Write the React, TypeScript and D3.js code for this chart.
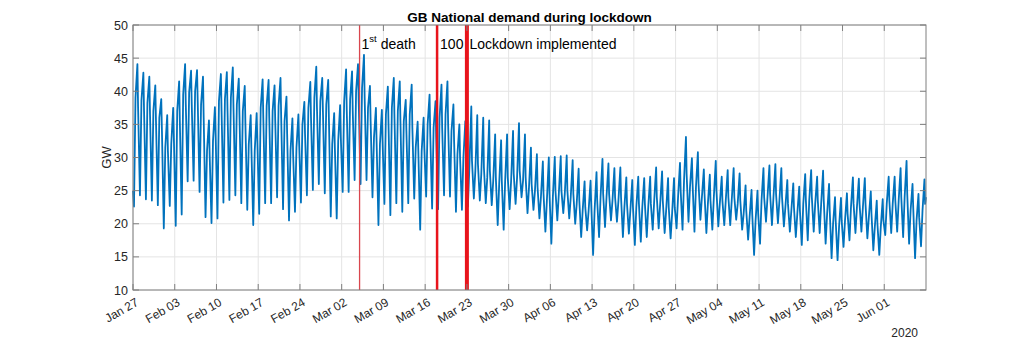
import React from "react";
import * as d3 from "d3";

// ---- Data (GW), one value per day, Jan 27 2020 (Mon) .. Jun 7 2020 ----
const dayPeak = [
  44.1, 42.8, 42.2, 40.9, 38.8, 36.4, 37.5,
  41.5, 44.1, 43.1, 43.2, 42.2, 35.6, 37.6,
  42.6, 42.9, 43.6, 41.9, 40.8, 36.4, 36.7,
  41.8, 41.7, 40.9, 42.0, 39.2, 35.9, 36.5,
  38.4, 41.4, 43.7, 42.0, 41.7, 36.7, 37.9,
  43.3, 43.0, 44.1, 45.5, 40.8, 37.5, 37.2,
  40.7, 42.0, 41.5, 38.7, 41.0, 35.4, 36.0,
  39.5, 38.5, 41.0, 41.5, 38.0, 35.0, 35.5,
  37.7, 36.4, 36.0, 35.6, 33.5, 32.6, 33.5,
  34.0, 35.2, 33.5, 31.5, 30.5, 29.4, 30.0,
  30.1, 30.2, 30.3, 29.6, 28.3, 26.4, 26.5,
  27.8, 29.8, 29.1, 28.4, 28.5, 27.0, 26.6,
  27.1, 26.9, 27.1, 28.5, 27.9, 26.9, 26.9,
  29.2, 33.1, 29.9, 30.8, 28.2, 27.4, 29.5,
  27.1, 28.1, 28.4, 27.6, 25.8, 25.1, 25.0,
  28.4, 28.8, 29.0, 28.4, 26.6, 26.1, 25.6,
  27.5, 28.1, 27.1, 28.0, 26.0, 24.0, 23.9,
  24.6, 27.0, 26.8, 26.9, 24.9, 23.5, 23.7,
  27.1, 27.1, 28.4, 29.5, 26.0, 24.5, 26.7,
];

// morning plateau
const dayMid = [
  39.0, 38.6, 38.2, 37.0, 36.0, 31.5, 32.0,
  37.0, 39.5, 39.8, 40.0, 38.0, 31.0, 32.5,
  38.5, 38.8, 39.0, 38.0, 37.0, 32.0, 31.0,
  37.5, 37.8, 37.0, 37.8, 35.5, 31.0, 31.5,
  35.0, 37.5, 39.0, 38.5, 38.0, 32.0, 32.5,
  38.5, 38.8, 40.0, 40.5, 37.5, 33.0, 32.0,
  36.5, 37.5, 37.0, 35.5, 36.5, 31.5, 31.0,
  35.0, 34.5, 36.0, 36.5, 34.0, 30.5, 30.0,
  28.5, 28.0, 27.5, 27.0, 26.5, 26.0, 26.5,
  26.5, 27.0, 26.5, 25.5, 25.0, 24.0, 23.5,
  24.0, 24.5, 24.5, 24.0, 23.0, 22.0, 22.0,
  22.0, 24.0, 24.0, 23.5, 23.5, 22.5, 22.0,
  22.5, 22.5, 22.5, 23.5, 23.0, 22.0, 21.5,
  24.0, 26.5, 25.5, 25.5, 24.0, 23.0, 24.0,
  23.0, 23.5, 23.5, 23.0, 21.5, 21.0, 20.5,
  23.5, 24.0, 24.0, 23.5, 22.5, 22.0, 21.5,
  23.0, 23.5, 23.0, 23.0, 21.5, 20.0, 19.5,
  20.5, 22.5, 22.5, 22.5, 21.0, 19.5, 19.5,
  23.0, 23.0, 23.5, 24.0, 22.0, 20.5, 22.0,
];

// late evening shoulder
const dayEve = [
  37.5, 37.0, 36.5, 35.5, 34.0, 31.0, 33.0,
  35.5, 38.0, 38.0, 38.5, 36.0, 30.5, 33.5,
  37.0, 37.0, 37.5, 36.5, 35.0, 31.5, 32.5,
  36.0, 36.0, 35.5, 36.0, 33.5, 30.5, 32.5,
  33.5, 36.0, 37.5, 37.0, 36.0, 31.5, 33.0,
  37.0, 37.0, 38.5, 39.0, 35.5, 32.5, 32.5,
  35.0, 36.0, 35.5, 34.0, 34.5, 31.0, 31.5,
  33.5, 33.0, 34.5, 35.0, 32.5, 30.0, 30.5,
  29.5, 29.0, 28.5, 28.0, 27.0, 26.5, 27.0,
  27.5, 28.0, 27.0, 26.0, 25.5, 24.5, 24.5,
  25.0, 25.0, 25.0, 24.5, 23.5, 22.5, 23.0,
  23.5, 24.5, 24.5, 24.0, 24.0, 23.0, 22.5,
  23.0, 23.0, 23.0, 24.0, 23.5, 22.5, 22.5,
  25.0, 27.5, 26.0, 26.0, 24.5, 23.5, 25.0,
  23.5, 24.0, 24.0, 23.5, 22.0, 21.5, 21.5,
  24.0, 24.5, 24.5, 24.0, 23.0, 22.5, 22.0,
  23.5, 24.0, 23.5, 23.5, 22.0, 20.5, 20.5,
  21.5, 23.0, 23.0, 23.0, 21.5, 20.0, 20.5,
  23.5, 23.5, 24.0, 24.5, 22.5, 21.0, 23.0,
];

const dayMin = [
  22.6, 24.3, 23.7, 23.5, 22.8, 19.3, 22.7,
  19.7, 21.4, 26.4, 26.5, 24.8, 21.0, 20.1,
  20.8, 23.2, 23.6, 24.3, 23.1, 22.1, 19.8,
  21.5, 23.1, 23.1, 24.0, 22.2, 20.5, 21.8,
  23.2, 24.3, 25.1, 26.0, 24.6, 21.1, 20.8,
  24.8, 24.8, 26.6, 26.0, 26.6, 24.0, 19.8,
  23.0, 21.3, 23.1, 21.8, 23.1, 23.8, 19.1,
  24.1, 22.3, 22.2, 24.3, 24.1, 21.8, 22.1,
  22.6, 23.8, 23.5, 23.1, 22.8, 19.8, 19.1,
  22.2, 23.0, 24.0, 21.6, 22.1, 20.8, 18.8,
  17.0, 20.5, 21.6, 20.8, 20.0, 18.0, 19.0,
  15.3, 18.0, 19.5, 20.5, 20.3, 18.0, 18.5,
  16.8, 17.3, 18.0, 19.1, 19.3, 18.6, 17.8,
  19.3, 19.1, 20.3, 18.8, 20.6, 18.6, 19.1,
  19.6, 19.8, 19.8, 20.6, 19.1, 17.6, 15.3,
  17.0, 20.3, 19.8, 20.1, 19.6, 18.8, 18.0,
  16.8, 17.5, 18.8, 18.6, 17.0, 14.8, 14.5,
  16.5, 17.5, 18.6, 18.8, 17.8, 16.0, 15.3,
  18.3, 18.6, 18.8, 18.0, 17.0, 14.8, 16.6,
];

const startValue = 25.0;
const endValue = 24.0;

const tickDates = [
  "2020-01-27", "2020-02-03", "2020-02-10", "2020-02-17", "2020-02-24",
  "2020-03-02", "2020-03-09", "2020-03-16", "2020-03-23", "2020-03-30",
  "2020-04-06", "2020-04-13", "2020-04-20", "2020-04-27", "2020-05-04",
  "2020-05-11", "2020-05-18", "2020-05-25", "2020-06-01",
];
const tickLabels = [
  "Jan 27", "Feb 03", "Feb 10", "Feb 17", "Feb 24", "Mar 02", "Mar 09",
  "Mar 16", "Mar 23", "Mar 30", "Apr 06", "Apr 13", "Apr 20", "Apr 27",
  "May 04", "May 11", "May 18", "May 25", "Jun 01",
];
const yTicks = [10, 15, 20, 25, 30, 35, 40, 45, 50];

const eventDates = ["2020-03-05", "2020-03-18", "2020-03-23"];

const DAY = 86400000;
const START = Date.UTC(2020, 0, 27);
const END = Date.UTC(2020, 5, 8);

const FONT = "'Liberation Sans', Arial, Helvetica, sans-serif";

export default function App() {
  const W = 1024, H = 341;
  const L = 133, R = 926, T = 25, B = 290;
  const x = d3.scaleUtc().domain([new Date(START), new Date(END)]).range([L, R]);
  const y = d3.scaleLinear().domain([10, 50]).range([B, T]);

  const pts: { t: Date; v: number }[] = [];
  pts.push({ t: new Date(START), v: startValue });
  for (let d = 0; d < dayPeak.length; d++) {
    pts.push({ t: new Date(START + (d + 4 / 24) * DAY), v: dayMin[d] });
    pts.push({ t: new Date(START + (d + 10 / 24) * DAY), v: dayMid[d] });
    pts.push({ t: new Date(START + (d + 17.75 / 24) * DAY), v: dayPeak[d] });
    pts.push({ t: new Date(START + (d + 20.5 / 24) * DAY), v: dayEve[d] });
  }
  pts.push({ t: new Date(END), v: endValue });

  const line = d3
    .line<{ t: Date; v: number }>()
    .x((p) => x(p.t))
    .y((p) => y(p.v));

  const tx = tickDates.map((s) => x(new Date(s + "T00:00:00Z")));
  const ex = eventDates.map((s) => x(new Date(s + "T00:00:00Z")));
  const eventWidths = [1.3, 2.5, 4];
  const eventColors = ["#d9464e", "#e8141c", "#e8141c"];

  const axisCol = "#262626";
  const boxCol = "#7f7f7f";
  const gridCol = "#e4e4e4";
  const tickLen = 6;

  return (
    <svg
      width={W}
      height={H}
      style={{ position: "absolute", left: 0, top: 0, background: "#fff" }}
      fontFamily={FONT}
    >
      <rect x={0} y={0} width={W} height={H} fill="#fff" />
      {tx.map((px, i) => (
        <line key={"gx" + i} x1={px} x2={px} y1={T} y2={B} stroke={gridCol} strokeWidth={1} />
      ))}
      {yTicks.map((v) => (
        <line key={"gy" + v} x1={L} x2={R} y1={y(v)} y2={y(v)} stroke={gridCol} strokeWidth={1} />
      ))}
      <path d={line(pts) || ""} fill="none" stroke="#0072BD" strokeWidth={1.8} strokeLinejoin="round" />
      {ex.map((px, i) => (
        <line key={"ev" + i} x1={px} x2={px} y1={T} y2={B} stroke={eventColors[i]} strokeWidth={eventWidths[i]} />
      ))}
      <rect x={L} y={T} width={R - L} height={B - T} fill="none" stroke={boxCol} strokeWidth={1} />
      {tx.map((px, i) => (
        <g key={"tk" + i}>
          <line x1={px} x2={px} y1={B} y2={B - tickLen} stroke={boxCol} />
          <line x1={px} x2={px} y1={T} y2={T + tickLen} stroke={boxCol} />
        </g>
      ))}
      {yTicks.map((v) => (
        <g key={"yt" + v}>
          <line x1={L} x2={L + tickLen} y1={y(v)} y2={y(v)} stroke={boxCol} />
          <line x1={R} x2={R - tickLen} y1={y(v)} y2={y(v)} stroke={boxCol} />
        </g>
      ))}
      {yTicks.map((v) => (
        <text key={"yl" + v} x={L - 5} y={y(v)} dy="0.36em" textAnchor="end" fontSize={12.5} fill={axisCol}>
          {v}
        </text>
      ))}
      {tx.map((px, i) => (
        <text
          key={"xl" + i}
          transform={`translate(${px + 4},${301}) rotate(-30)`}
          textAnchor="end"
          dy="0.36em"
          fontSize={12}
          fill={axisCol}
        >
          {tickLabels[i]}
        </text>
      ))}
      <text x={918} y={337} textAnchor="end" fontSize={12} fill={axisCol}>
        2020
      </text>
      <text transform={`translate(111,${(T + B) / 2}) rotate(-90)`} textAnchor="middle" fontSize={13} fill={axisCol}>
        GW
      </text>
      <text x={(L + R) / 2} y={21.5} textAnchor="middle" fontSize={13.5} fontWeight="bold" fill="#000">
        GB National demand during lockdown
      </text>
      <text x={ex[0] + 2} y={48.5} fontSize={14} fill="#000">
        1
        <tspan dy={-6.5} fontSize={9.5}>st</tspan>
        <tspan dy={6.5} fontSize={14}> death</tspan>
      </text>
      <text x={ex[1] + 3} y={48.5} fontSize={14} fill="#000">
        100
      </text>
      <text x={ex[2] + 2.5} y={48.5} fontSize={14} fill="#000">
        Lockdown implemented
      </text>
    </svg>
  );
}
